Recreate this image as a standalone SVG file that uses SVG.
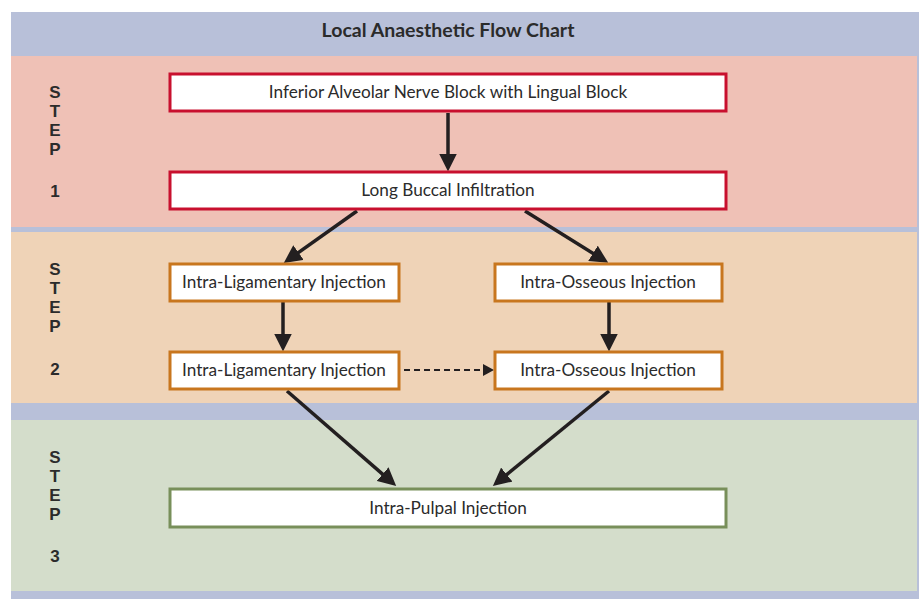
<svg xmlns="http://www.w3.org/2000/svg" width="923" height="599" viewBox="0 0 923 599">
<style>
.box{fill:#ffffff;stroke-width:3}
.red{stroke:#c8102e}
.org{stroke:#c8761e}
.grn{stroke:#788f5a}
.t{font-family:Lato,"Open Sans",sans-serif;font-size:17.2px;fill:#2b2b2b;text-anchor:middle}
.step{font-family:"Liberation Sans",Arial,sans-serif;font-size:17px;font-weight:bold;fill:#2b2b2b;text-anchor:middle}
.title{font-family:Lato,"Open Sans",sans-serif;font-size:19.5px;font-weight:bold;fill:#2b2b2b;text-anchor:middle}
.arr{stroke:#231f20;stroke-width:3.5;fill:none;marker-end:url(#ah)}
.dash{stroke:#231f20;stroke-width:2;fill:none;stroke-dasharray:6 4;marker-end:url(#ahs)}
</style>
<defs>
<marker id="ah" markerUnits="userSpaceOnUse" markerWidth="18" markerHeight="18" refX="4" refY="8" orient="auto" viewBox="0 0 16 16">
<path d="M0,0 L16,8 L0,16 z" fill="#231f20"/>
</marker>
<marker id="ahs" markerUnits="userSpaceOnUse" markerWidth="12" markerHeight="12" refX="1" refY="6" orient="auto" viewBox="0 0 12 12">
<path d="M0,0 L11,6 L0,12 z" fill="#231f20"/>
</marker>
</defs>
<g id="background">
<rect x="11" y="12" width="908" height="587" fill="#b8c0d9"/>
<rect x="11" y="56" width="906" height="171" fill="#efc1b6"/>
<rect x="11" y="232" width="906" height="171" fill="#efd3b7"/>
<rect x="11" y="420" width="906" height="171" fill="#d4ddcb"/>
<text class="title" x="448" y="37">Local Anaesthetic Flow Chart</text>
</g>
<g id="step1-label">
<text class="step"><tspan x="55" y="98">S</tspan><tspan x="55" y="117">T</tspan><tspan x="55" y="136">E</tspan><tspan x="55" y="155">P</tspan><tspan x="55" y="197">1</tspan></text>
</g>
<g id="step2-label">
<text class="step"><tspan x="55" y="275">S</tspan><tspan x="55" y="294">T</tspan><tspan x="55" y="313">E</tspan><tspan x="55" y="332">P</tspan><tspan x="55" y="375">2</tspan></text>
</g>
<g id="step3-label">
<text class="step"><tspan x="55" y="463">S</tspan><tspan x="55" y="482">T</tspan><tspan x="55" y="501">E</tspan><tspan x="55" y="520">P</tspan><tspan x="55" y="562">3</tspan></text>
</g>
<g id="connectors">
<line class="arr" x1="448" y1="113" x2="448" y2="158"/>
<line class="arr" x1="357" y1="211" x2="294.8" y2="255.1"/>
<line class="arr" x1="525" y1="211" x2="596.8" y2="255.7"/>
<line class="arr" x1="283" y1="302" x2="283" y2="338"/>
<line class="arr" x1="609" y1="302" x2="609" y2="338"/>
<line class="dash" x1="404" y1="370" x2="484" y2="370"/>
<line class="arr" x1="287" y1="391" x2="386" y2="477.1"/>
<line class="arr" x1="609" y1="391" x2="503.3" y2="477.4"/>
</g>
<g id="n1">
<rect class="box red" x="170" y="74" width="556" height="37"/>
<text class="t" x="448" y="98">Inferior Alveolar Nerve Block with Lingual Block</text>
</g>
<g id="n2">
<rect class="box red" x="170" y="172" width="556" height="37"/>
<text class="t" x="448" y="196">Long Buccal Infiltration</text>
</g>
<g id="n3">
<rect class="box org" x="170" y="264" width="229" height="37"/>
<text class="t" x="284" y="288">Intra-Ligamentary Injection</text>
</g>
<g id="n4">
<rect class="box org" x="495" y="264" width="227" height="37"/>
<text class="t" x="608" y="288">Intra-Osseous Injection</text>
</g>
<g id="n5">
<rect class="box org" x="170" y="352" width="229" height="37"/>
<text class="t" x="284" y="376">Intra-Ligamentary Injection</text>
</g>
<g id="n6">
<rect class="box org" x="495" y="352" width="227" height="37"/>
<text class="t" x="608" y="376">Intra-Osseous Injection</text>
</g>
<g id="n7">
<rect class="box grn" x="170" y="489" width="556" height="38"/>
<text class="t" x="448" y="514">Intra-Pulpal Injection</text>
</g>
</svg>
